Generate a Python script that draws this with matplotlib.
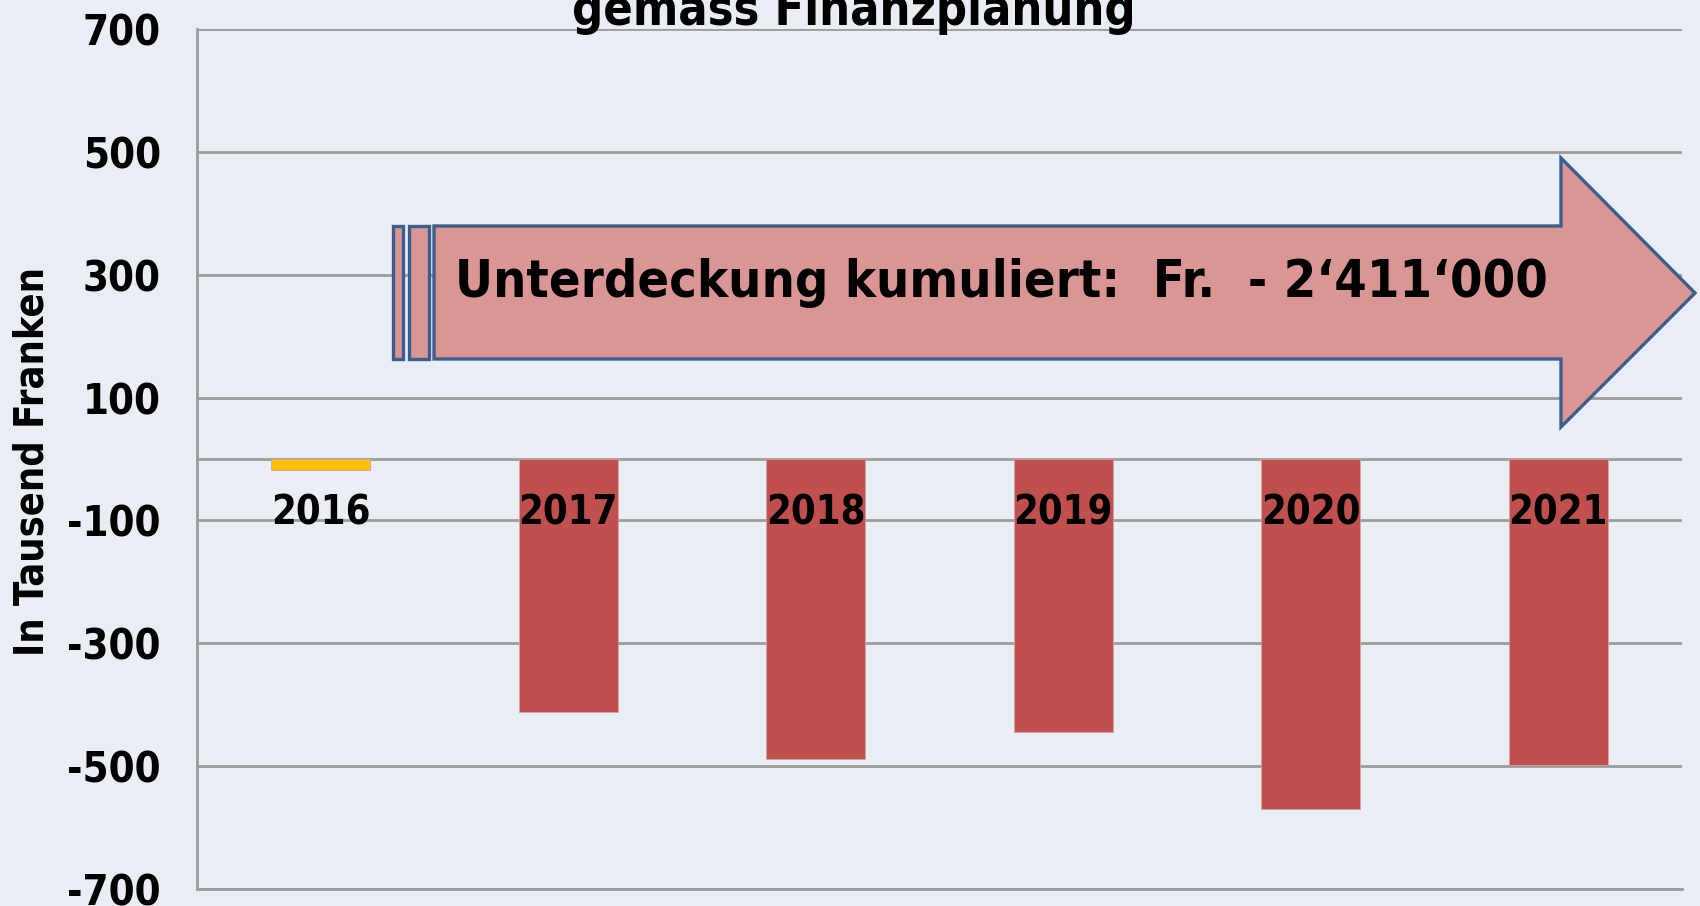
import matplotlib
matplotlib.use('Agg')
import matplotlib.pyplot as plt
from matplotlib.patches import Polygon
from matplotlib.transforms import Affine2D
from matplotlib import font_manager as fm

# ---- data ----
years = ['2016', '2017', '2018', '2019', '2020', '2021']
values = [-18, -412, -488, -444, -569, -498]
bar_colors = ['#FFC000', '#C0504D', '#C0504D', '#C0504D', '#C0504D', '#C0504D']
yticks = [700, 500, 300, 100, -100, -300, -500, -700]
ylabel = 'In Tausend Franken'
title = 'gemäss Finanzplanung'
arrow_text = 'Unterdeckung kumuliert:  Fr.  - 2\u2018411\u2018000'

W, H = 1700, 906
bg = '#E9EDF4'
grid_c = '#9C9C9C'

names = {f.name for f in fm.fontManager.ttflist}
fam = 'DejaVu Sans'
stretch = 'normal'
if any('Condensed' in f.fname and 'DejaVuSans' in f.fname for f in fm.fontManager.ttflist):
    stretch = 'condensed'
plt.rcParams['font.family'] = [fam]
plt.rcParams['font.stretch'] = stretch

fig = plt.figure(figsize=(W / 100, H / 100), dpi=100)
fig.patch.set_facecolor(bg)
px = Affine2D().scale(1 / W, -1 / H).translate(0, 1) + fig.transFigure

ax = fig.add_axes([197 / W, 1 - 889 / H, (1682 - 197) / W, (889 - 29) / H])
ax.set_facecolor(bg)
xs = list(range(len(years)))
ax.bar(xs, values, width=0.4, color=bar_colors, edgecolor='#D9A0A0', linewidth=0.6, zorder=3)
ax.set_xlim(-0.5, len(years) - 0.5)
ax.set_ylim(-700, 700)
ax.set_yticks(yticks)
tick_fs = 27 if stretch == 'normal' else 30
ax.set_yticklabels([str(v) for v in yticks], fontsize=tick_fs, fontweight='bold')
ax.tick_params(axis='y', length=0, pad=26)
ax.set_xticks([])
ax.grid(axis='y', color=grid_c, lw=2, zorder=1)
ax.axhline(0, color=grid_c, lw=2, zorder=2)
for s in ['top', 'right']:
    ax.spines[s].set_visible(False)
for s in ['left', 'bottom']:
    ax.spines[s].set_color(grid_c)
    ax.spines[s].set_linewidth(2)

year_texts = []
for x, yl in zip(xs, years):
    year_texts.append(ax.text(x, -88, yl, ha='center', va='center', fontsize=27,
                              fontweight='bold', zorder=5))

# arrow shape (pixel coordinates of figure)
edge = '#3B5E8C'
fill = '#D99694'
arrow_pts = [(434, 226), (1561, 226), (1561, 158), (1695, 293), (1561, 427), (1561, 359), (434, 359)]
fig.patches.append(Polygon(arrow_pts, closed=True, transform=px, facecolor=fill, edgecolor=edge,
                           lw=2.4, joinstyle='miter', zorder=10))
for x0, x1 in [(393, 403), (409, 429)]:
    fig.patches.append(Polygon([(x0, 226), (x1, 226), (x1, 359), (x0, 359)], closed=True, transform=px,
                               facecolor=fill, edgecolor=edge, lw=2.4, joinstyle='miter', zorder=10))

t_arrow = fig.text(455, 297, arrow_text, transform=px, ha='left', va='baseline',
                   fontsize=36, fontweight='bold', zorder=11)
t_title = fig.text(854, 25, title, transform=px, ha='center', va='baseline',
                   fontsize=26, fontweight='bold', zorder=11)
t_ylab = fig.text(33, 461, ylabel, transform=px, ha='center', va='center', rotation=90,
                  fontsize=24, fontweight='bold')

fig.canvas.draw()
r = fig.canvas.get_renderer()
fits = [(t_arrow, 1090, True), (t_title, 565, True), (t_ylab, 390, False)]
fits += [(t, 99, True) for t in year_texts]
for t, target, horiz in fits:
    bb = t.get_window_extent(r)
    cur = bb.width if horiz else bb.height
    t.set_fontsize(t.get_fontsize() * target / cur)

fig.savefig('out.png', dpi=100, facecolor=bg)
